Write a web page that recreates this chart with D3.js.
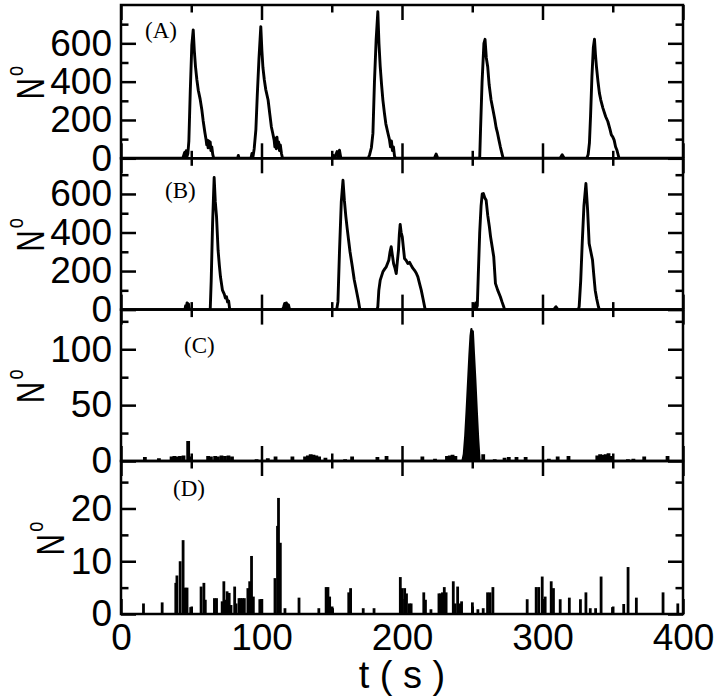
<!DOCTYPE html>
<html><head><meta charset="utf-8">
<script src="https://cdn.jsdelivr.net/npm/d3@7"></script>
<style>body{margin:0;background:#fff} svg{display:block}</style>
</head><body>
<svg id="chart" width="720" height="696"></svg>
<script>
// ---------- DATA ----------
const xMajorTicks = [0, 100, 200, 300, 400];
const xMinorTicks = [50, 150, 250, 350];
const xLabel = "t ( s )";
const panelLetters = ["(A)", "(B)", "(C)", "(D)"];

// Panel A : time (s) and N
const aT = [0,44,45.3,45.8,46.4,47,47.6,48.3,49.3,50.4,51.4,52.2,53,54,55,56.3,57.5,58.5,59.7,60.5,61,61.5,62,62.5,63,63.5,64,64.6,65.3,66,83,83.5,84,92.5,93.2,94,94.8,96,97,98.2,99.5,100.3,101,102,103,104.7,106,107,108,109,109.5,110,110.5,111,111.6,112.2,112.8,113.4,114.2,115,150.5,151,151.6,153,153.8,154.5,155.5,156.5,176,177,178.2,179.3,180.4,181.6,182.8,183.6,184.5,185.5,186.4,187.5,188.5,190,191,191.8,192.5,193.2,193.9,194.7,195.5,223,224.3,225.5,255.3,255.9,257,258.3,259.1,260,261,262,263.4,264.5,266,267,268,269,270,271,272,312.5,314,315.5,331.5,332.5,333.4,334.2,335.2,336.2,337,337.7,338.4,339.5,340.5,341.5,343,345,346.5,348,349,350,351,352,353,354.5,400];
const aV = [0,0,30,5,40,10,25,90,350,590,670,560,480,410,355,310,255,195,135,100,70,95,55,90,60,85,40,60,20,0,0,15,0,0,25,10,50,150,330,520,687,560,475,410,360,304,225,165,131,95,60,105,50,110,55,85,40,70,25,0,0,15,0,20,35,8,42,0,0,20,55,130,400,620,765,600,478,380,304,235,180,131,100,60,90,40,60,10,0,0,22,0,0,150,400,600,621,525,478,385,304,262,205,160,131,95,60,30,0,0,18,0,0,20,80,220,430,580,621,540,478,400,340,304,262,217,192,152,122,112,95,60,42,0,0];

// Panel B
const bT = [0,45.5,46,46.5,47,47.5,48,48.6,49.2,63.5,64.2,65.2,66.3,67.1,68,69.1,70,70.8,72.2,73.5,74.3,75.1,75.8,76.6,77.4,115,115.8,116.5,117.1,117.7,118.4,119.2,120,153.5,154.4,155.5,156.8,158,159,160,161,162,163,164.5,166,167.5,169,170,182.3,182.8,183.5,184.5,186.4,187.6,188.8,190.6,191.5,192.3,193.2,194,195,195.9,196.7,197.5,198.1,198.7,199.4,200.2,201,201.8,203,204.2,205.4,206.5,207.7,208.9,210.1,211.3,212.5,213.7,215,216.5,250.8,251.3,251.8,252.4,252.9,253.6,254.3,255.3,256.3,257.1,257.9,258.9,259.9,261,262.2,263,263.8,265.3,266.5,268.1,270,271.2,272.4,273,308,309.6,311,325.5,326.1,327.2,328.3,329.5,330.9,332.1,333.2,334.4,335.6,336.5,337.5,338.6,339.8,340.5,400];
const bV = [0,0,20,5,35,10,30,5,0,0,150,450,685,560,481,308,230,170,101,80,60,67,40,45,0,0,15,32,5,35,10,25,0,0,40,300,560,671,565,485,420,360,300,230,155,100,45,0,0,15,100,153,196,210,222,256,300,326,280,239,215,187,250,308,390,442,400,377,320,265,255,239,245,230,215,204,190,170,135,101,55,0,0,25,0,35,5,20,180,400,540,600,602,580,567,490,429,380,343,274,136,101,67,40,15,0,0,15,0,0,15,150,350,540,654,516,343,300,257,180,101,55,15,0,0];

// Panel C : main burst and small background events
const cBurstT = [243,244,245,246,247,248,248.8,249.4,249.9,250.4,251.2,252.2,253.2,254.2,255.2];
const cBurstV = [0,6,22,45,70,95,112,118,108,116,96,72,45,20,0];
const cEventT = [17,27,36,38,40,42,44.5,47.8,49.5,62,64,67,69,71.5,74,76.5,79,96.5,104.5,110,122,131,133,135,137,139,141,145.5,159.5,164.5,182.5,189,214.5,223.5,232,234,236,238,257.8,266,273,276,281.5,288,304.5,310.8,318.5,339,341,343,345,347,349,360.8,364.7,372.4,389];
const cEventV = [3.5,2.5,4,4.5,4,4.5,5,18,4,4.5,4,4.5,4,5,4.5,5,4,1.5,2.5,4,4,4,5,6,5.5,5,4,3,1.5,4,3.5,4.5,4,2,4.5,5,5.5,4.5,6,1.5,3,3.5,3.5,3.5,2,4,4.5,5,6,5.5,6,7,4.5,1.5,2,4,4.5];

// Panel D : events
const dT = [16,29.3,39,39.8,42.1,44.2,45.5,47,49.6,57,59,60,66.5,68,72,73.2,74.2,75.5,77,78.3,80.9,81.9,84,85.2,86.5,87.8,90.3,91.6,92.9,94.2,98.8,99.8,109.6,111.4,112.1,113.4,116.7,126.7,140.8,146,147.3,148.5,150.6,162.1,163.4,172.4,180.1,198.8,200.1,201.9,203.2,205.2,206.5,215.5,216.7,220.6,226.3,227.5,228.8,230.1,231.4,236.5,237.8,239.6,241.1,242.4,250.1,254,257.8,260.9,262.7,264.7,289.1,295.5,297.3,299.8,301.9,306.2,307.8,312.6,319.1,327,330.9,334,337.8,341.7,349.8,357.8,360.9,366.8,385.8,396.3];
const dV = [2,2.2,5.9,7.3,10,14,5,5,1.3,5.2,5.9,2.7,3,3,2.4,6.2,2.7,4.3,4,1.7,5.2,2,3,3,3,3,4.9,6.2,11,3.3,2.8,2.8,6.8,16.7,22,13.5,1.1,3.1,1.1,5.1,5.1,3.3,1.1,4.1,4.9,1.1,1.1,7,4.9,4.9,3.9,2,2,4.1,2.7,0.9,3.9,3.9,4.1,5.1,4.1,6.2,2,5.2,2,2.4,2.2,0.9,1.1,4.1,4.1,5.1,2.8,5.1,5.1,7.1,3.3,6.2,4.9,2.8,3.1,2.8,4.1,1.1,1.1,7.1,1.3,1.9,8.9,3.1,4.1,2];

// y axes
const aDomain = [0, 800], aMajor = [0, 200, 400, 600], aMinor = [100, 300, 500, 700];
const bDomain = [0, 785], bMajor = [0, 200, 400, 600], bMinor = [100, 300, 500, 700];
const cDomain = [0, 135.5], cMajor = [0, 50, 100], cMinor = [25, 75, 125];
const dDomain = [0, 29], dMajor = [0, 10, 20], dMinor = [5, 15, 25];

// ---------- LAYOUT ----------
const L = 121, R = 683;
const bounds = [5, 158.3, 309.6, 461, 614];
const svg = d3.select("#chart");
const x = d3.scaleLinear().domain([0, 400]).range([L, R]);
const sans = "'Liberation Sans', Arial, Helvetica, sans-serif";
const serif = "'Liberation Serif', 'Times New Roman', serif";

const panels = [
  {dom: aDomain, maj: aMajor, min: aMinor, letterX: 145, letterY: 38, nX: 44},
  {dom: bDomain, maj: bMajor, min: bMinor, letterX: 165, letterY: 198, nX: 44},
  {dom: cDomain, maj: cMajor, min: cMinor, letterX: 184, letterY: 353, nX: 44},
  {dom: dDomain, maj: dMajor, min: dMinor, letterX: 173, letterY: 496, nX: 64}
];

const lw = 2.5;

panels.forEach((p, i) => {
  const top = bounds[i], bot = bounds[i + 1];
  const y = d3.scaleLinear().domain(p.dom).range([bot, top]);
  const g = svg.append("g");
  const clipId = "clip" + i;
  svg.append("clipPath").attr("id", clipId).append("rect")
    .attr("x", L).attr("y", top).attr("width", R - L).attr("height", bot - top);
  const dg = g.append("g").attr("clip-path", `url(#${clipId})`);
  const line = d3.line().x(d => x(d[0])).y(d => y(d[1]));

  if (i === 0) {
    dg.append("path").datum(aT.map((t, k) => [t, aV[k]])).attr("d", line)
      .attr("fill", "none").attr("stroke", "#000").attr("stroke-width", 2.9).attr("stroke-linejoin", "round");
  } else if (i === 1) {
    dg.append("path").datum(bT.map((t, k) => [t, bV[k]])).attr("d", line)
      .attr("fill", "none").attr("stroke", "#000").attr("stroke-width", 2.9).attr("stroke-linejoin", "round");
  } else if (i === 2) {
    dg.selectAll("line.ev").data(cEventT.map((t, k) => [t, cEventV[k]])).join("line")
      .attr("x1", d => x(d[0])).attr("x2", d => x(d[0]))
      .attr("y1", y(0)).attr("y2", d => y(d[1]))
      .attr("stroke", "#000").attr("stroke-width", 3.8);
    const area = d3.area().x(d => x(d[0])).y0(y(0)).y1(d => y(d[1]));
    dg.append("path").datum(cBurstT.map((t, k) => [t, cBurstV[k]])).attr("d", area)
      .attr("fill", "#000").attr("stroke", "#000").attr("stroke-width", 2.2).attr("stroke-linejoin", "round");
  } else {
    dg.selectAll("line.ev").data(dT.map((t, k) => [t, dV[k]])).join("line")
      .attr("x1", d => x(d[0])).attr("x2", d => x(d[0]))
      .attr("y1", y(0)).attr("y2", d => y(d[1]))
      .attr("stroke", "#000").attr("stroke-width", 2.8);
  }

  const styleAxis = sel => {
    sel.select(".domain").remove();
    sel.selectAll(".tick line").attr("stroke", "#000").attr("stroke-width", lw);
  };
  [[xMajorTicks, 15], [xMinorTicks, 7.5]].forEach(([vals, len], j) => {
    const showLab = (i === 3 && j === 0);
    const ab = g.append("g").attr("transform", `translate(0,${bot})`)
      .call(d3.axisBottom(x).tickValues(vals).tickSize(-len).tickPadding(10)
        .tickFormat(showLab ? d3.format("d") : () => ""));
    styleAxis(ab);
    ab.selectAll("text").attr("font-family", sans).attr("font-size", 37).attr("fill", "#000");
    const at = g.append("g").attr("transform", `translate(0,${top})`)
      .call(d3.axisTop(x).tickValues(vals).tickSize(-len).tickFormat(() => ""));
    styleAxis(at);
  });
  [[p.maj, 15], [p.min, 7.5]].forEach(([vals, len], j) => {
    const al = g.append("g").attr("transform", `translate(${L},0)`)
      .call(d3.axisLeft(y).tickValues(vals).tickSize(-len).tickPadding(9)
        .tickFormat(j === 0 ? d3.format("d") : () => ""));
    styleAxis(al);
    al.selectAll("text").attr("font-family", sans).attr("font-size", 37).attr("fill", "#000");
    const ar = g.append("g").attr("transform", `translate(${R},0)`)
      .call(d3.axisRight(y).tickValues(vals).tickSize(-len).tickFormat(() => ""));
    styleAxis(ar);
  });

  g.append("rect").attr("x", L).attr("y", top).attr("width", R - L).attr("height", bot - top)
    .attr("fill", "none").attr("stroke", "#000").attr("stroke-width", lw);

  g.append("text").attr("x", p.letterX).attr("y", p.letterY)
    .attr("font-family", serif).attr("font-size", 23).attr("fill", "#000")
    .text(panelLetters[i]);

  const cy = (top + bot) / 2 + 1;
  const t = g.append("text")
    .attr("transform", `translate(${p.nX},${cy}) rotate(-90) scale(0.76,1)`)
    .attr("text-anchor", "middle").attr("font-family", sans).attr("fill", "#000");
  t.append("tspan").attr("font-size", 39).text("N");
  t.append("tspan").attr("font-size", 24).attr("dy", -21).attr("dx", 3).text("o");
});

svg.append("text").attr("x", (L + R) / 2).attr("y", 688)
  .attr("text-anchor", "middle").attr("font-family", sans).attr("font-size", 38)
  .attr("fill", "#000").style("white-space", "pre").text(xLabel);
</script>
</body></html>
